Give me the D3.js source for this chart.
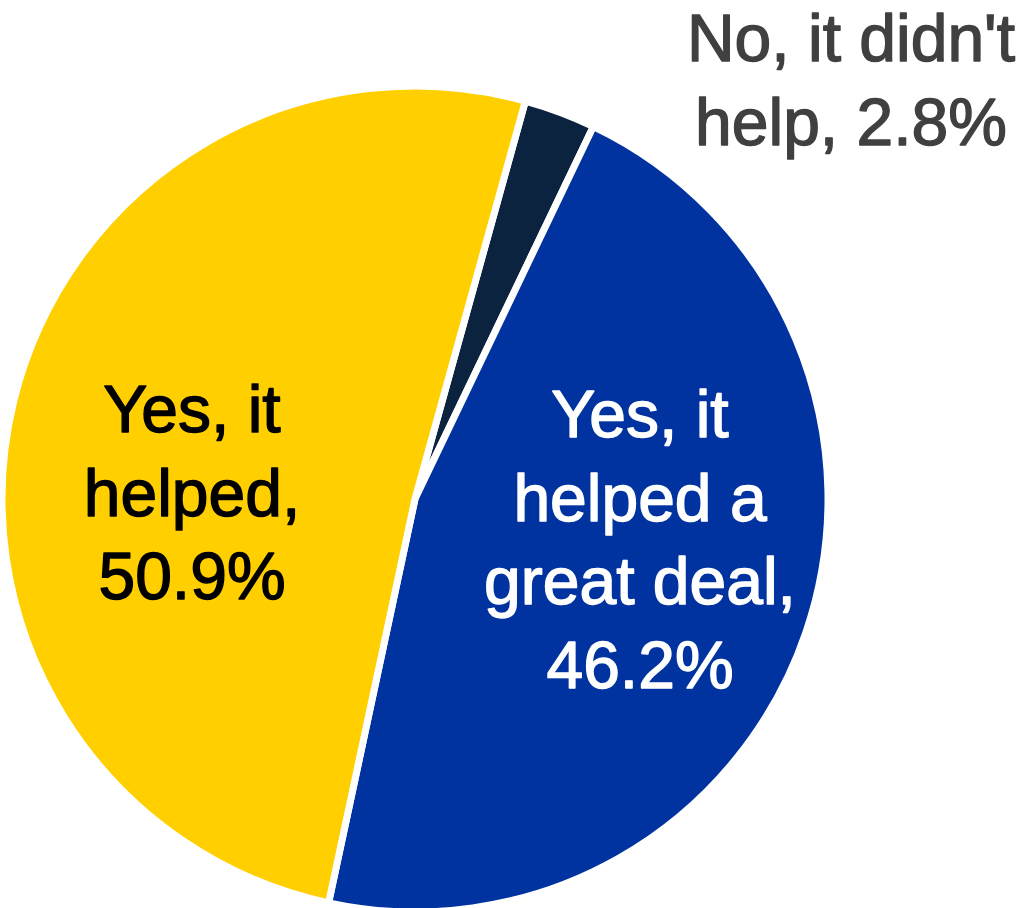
<!DOCTYPE html>
<html>
<head>
<meta charset="utf-8">
<script src="https://cdn.jsdelivr.net/npm/d3@7"></script>
<style>
  html, body { margin: 0; padding: 0; background: #ffffff; }
  svg { display: block; }
  text { font-family: "Liberation Sans", Arial, Helvetica, sans-serif; }
</style>
</head>
<body>
<svg id="chart" width="1026" height="908"></svg>
<script>
// ---- data ----
const categories = ["No, it didn't help", "Yes, it helped a great deal", "Yes, it helped"];
const values = [2.8, 46.2, 50.9];
const labelLines = [
  ["No, it didn't", "help, 2.8%"],
  ["Yes, it", "helped a", "great deal,", "46.2%"],
  ["Yes, it", "helped,", "50.9%"]
];
const colors = ["#0c2340", "#0033a0", "#ffcf00"];
const labelColors = ["#404040", "#ffffff", "#000000"];

// ---- layout ----
const W = 1026, H = 908;
const cx = 415, cy = 499, R = 413;
const startDeg = 15.5;
const labelOffsets = [[436, -438], [225, -62], [-223, -67]];
const lineH = 83.5;
const fontSize = 66;

const svg = d3.select("#chart");
const g = svg.append("g").attr("transform", `translate(${cx},${cy})`);

const pie = d3.pie()
  .sort(null)
  .value(d => d)
  .startAngle(startDeg * Math.PI / 180)
  .endAngle(startDeg * Math.PI / 180 + 2 * Math.PI);

const arcs = pie(values);
const arc = d3.arc().innerRadius(0).outerRadius(R);

g.selectAll("path.slice")
  .data(arcs)
  .join("path")
  .attr("class", "slice")
  .attr("d", arc)
  .attr("fill", (d, i) => colors[i])
  .attr("stroke", "#ffffff")
  .attr("stroke-width", 7)
  .attr("stroke-linejoin", "round");

const labels = g.selectAll("text.lbl")
  .data(arcs)
  .join("text")
  .attr("class", "lbl")
  .attr("text-anchor", "middle")
  .attr("font-size", fontSize)
  .attr("fill", (d, i) => labelColors[i])
  .attr("stroke", (d, i) => labelColors[i])
  .attr("stroke-width", 1.4)
  .attr("stroke-linejoin", "round")
  .attr("transform", (d, i) => `translate(${labelOffsets[i][0]},${labelOffsets[i][1]})`);

labels.each(function(d, i) {
  d3.select(this).selectAll("tspan")
    .data(labelLines[i])
    .join("tspan")
    .attr("x", 0)
    .attr("y", (t, j) => j * lineH)
    .text(t => t);
});
</script>
</body>
</html>
